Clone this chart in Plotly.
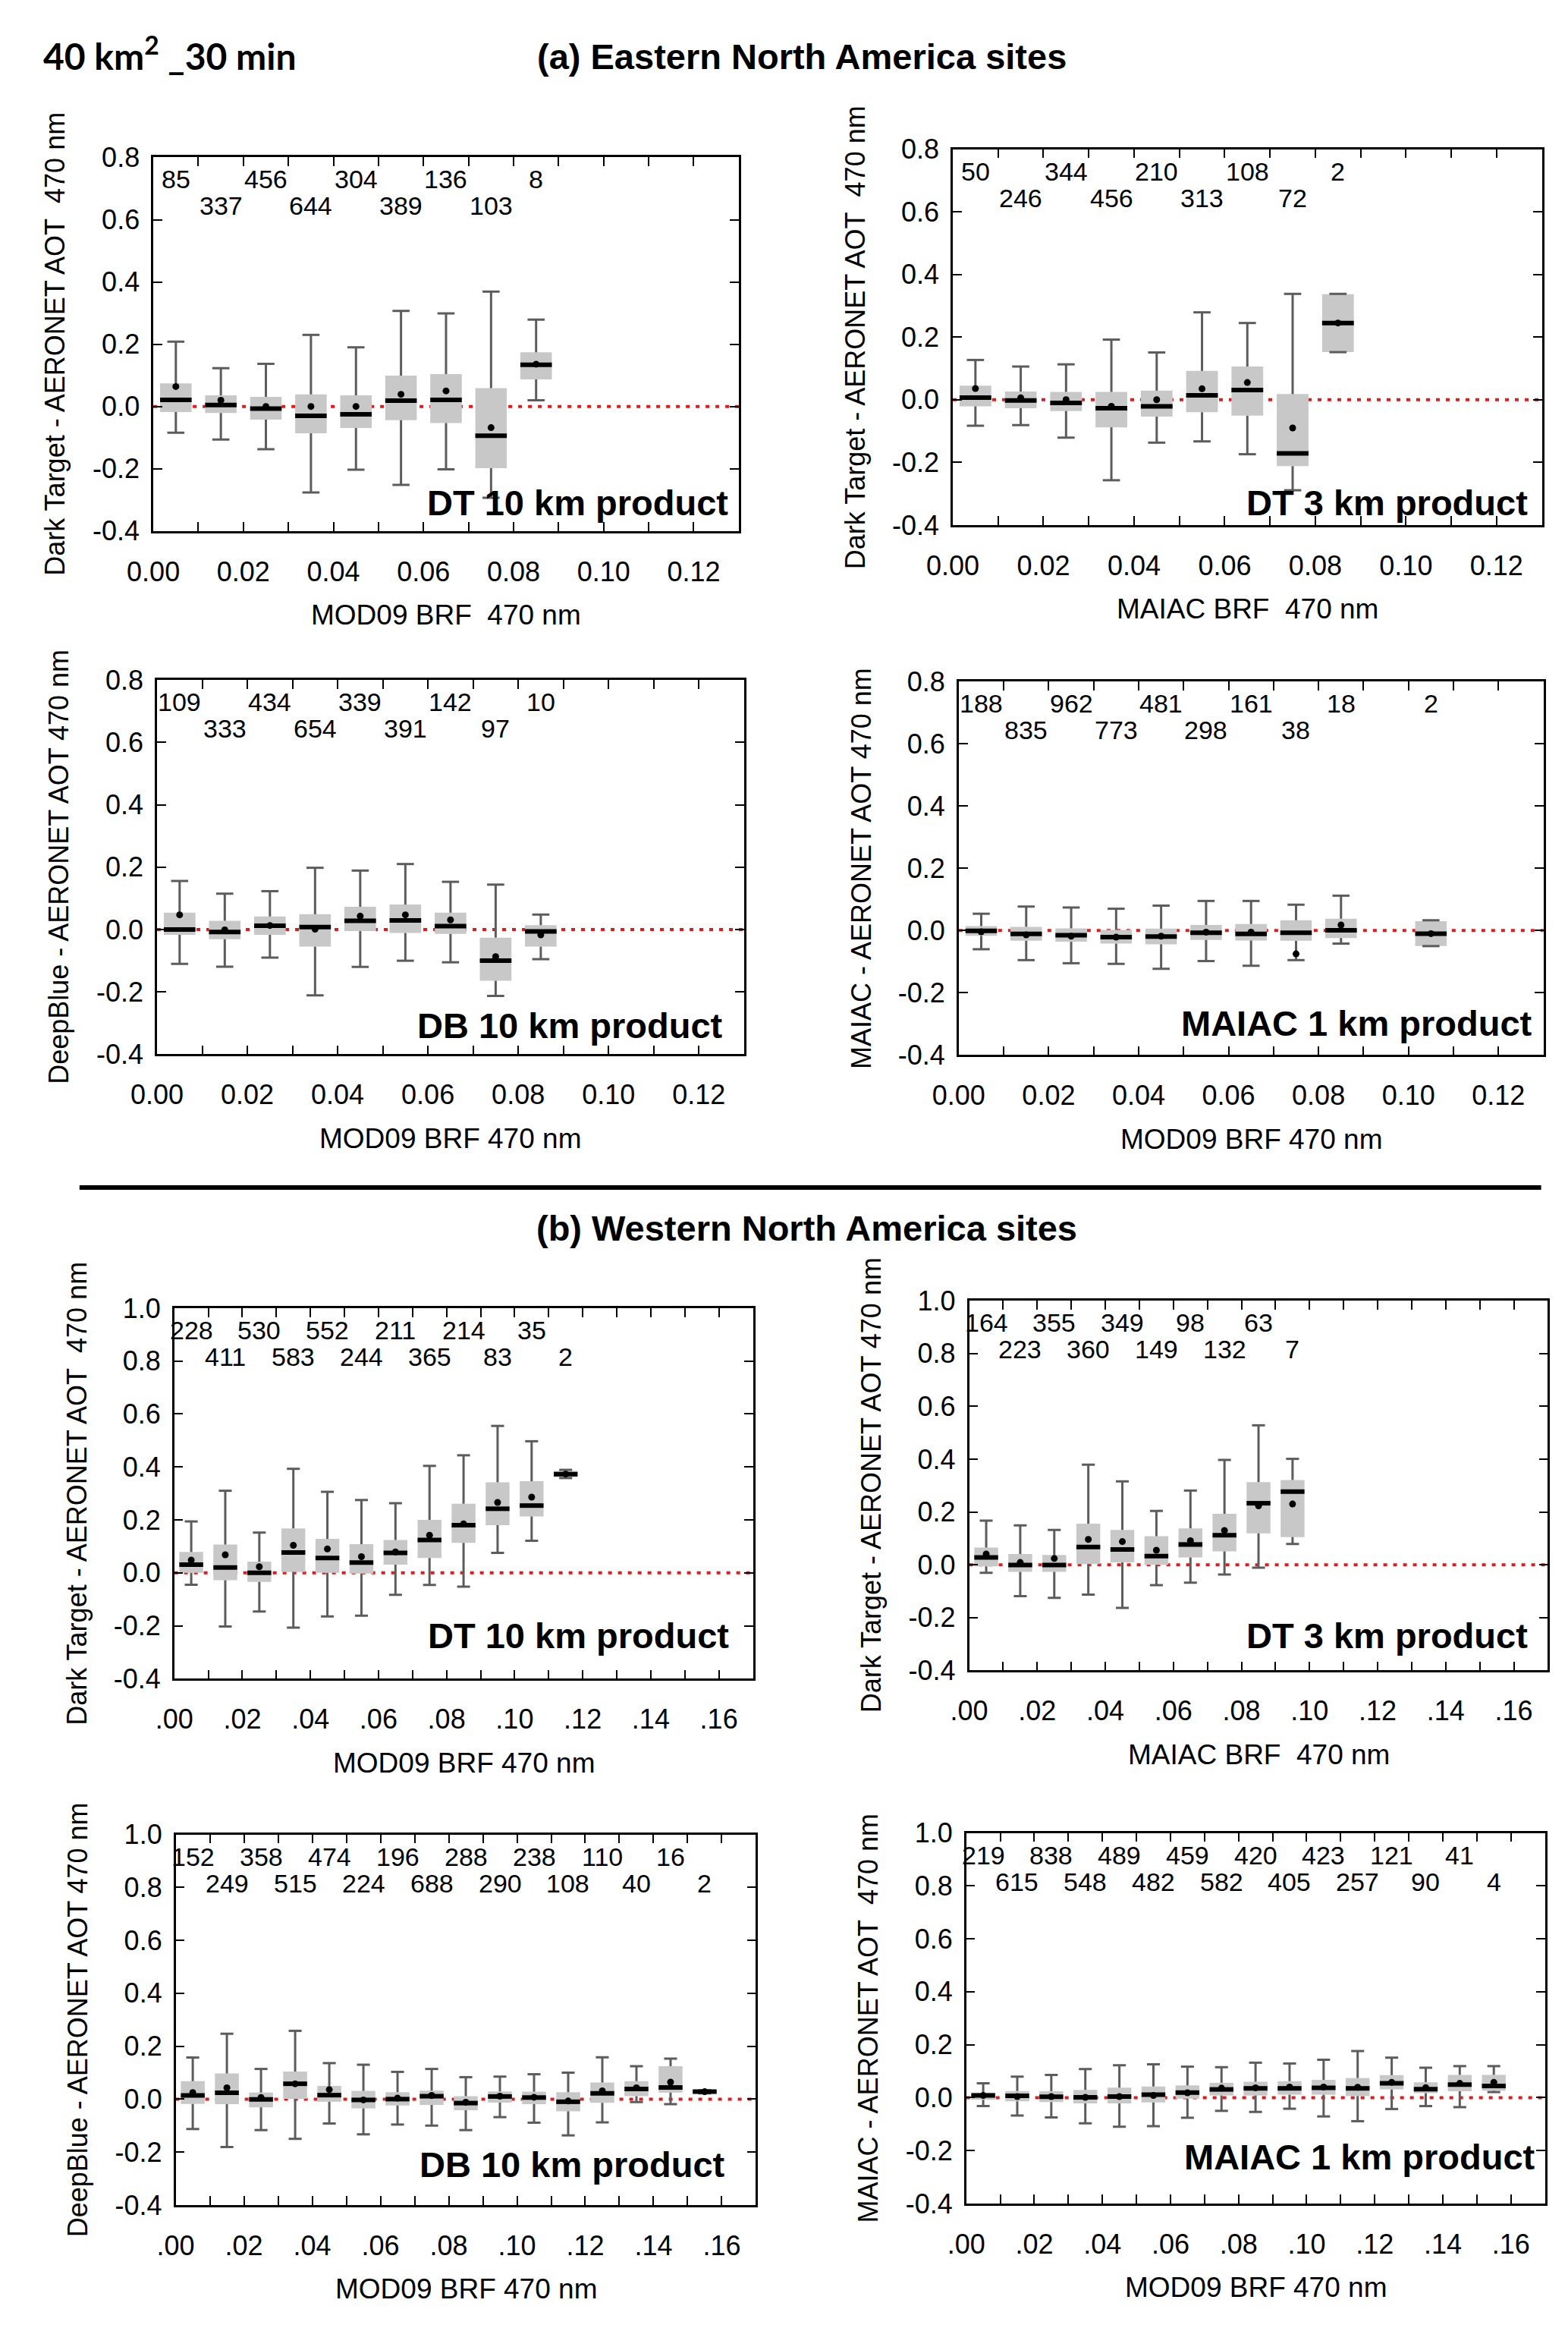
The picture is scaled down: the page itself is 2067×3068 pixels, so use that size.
import plotly.graph_objects as go

W, H = 2067, 3068
FONT = "Liberation Sans, Arial, sans-serif"

# ---------------- data ----------------
# (a) Eastern North America sites
E_DT10_BINS = [0.005, 0.015, 0.025, 0.035, 0.045, 0.055, 0.065, 0.075, 0.085]
E_DT10_LO = [-0.084, -0.106, -0.137, -0.276, -0.203, -0.252, -0.202, -0.293, 0.020]
E_DT10_Q1 = [-0.018, -0.021, -0.042, -0.086, -0.069, -0.044, -0.053, -0.198, 0.087]
E_DT10_MED = [0.021, 0.005, -0.007, -0.030, -0.025, 0.019, 0.021, -0.094, 0.134]
E_DT10_Q3 = [0.074, 0.036, 0.031, 0.039, 0.036, 0.099, 0.104, 0.059, 0.174]
E_DT10_HI = [0.208, 0.123, 0.137, 0.230, 0.190, 0.307, 0.299, 0.369, 0.279]
E_DT10_MEAN = [0.064, 0.020, 0.000, 0.000, 0.000, 0.039, 0.050, -0.068, 0.136]
E_DT10_N = [85, 337, 456, 644, 304, 389, 136, 103, 8]

E_DT3_BINS = [0.005, 0.015, 0.025, 0.035, 0.045, 0.055, 0.065, 0.075, 0.085]
E_DT3_LO = [-0.083, -0.081, -0.121, -0.257, -0.137, -0.133, -0.174, -0.289, 0.152]
E_DT3_Q1 = [-0.021, -0.027, -0.036, -0.088, -0.054, -0.040, -0.051, -0.212, 0.152]
E_DT3_MED = [0.007, -0.002, -0.010, -0.027, -0.021, 0.014, 0.031, -0.171, 0.245]
E_DT3_Q3 = [0.045, 0.026, 0.025, 0.025, 0.029, 0.092, 0.106, 0.018, 0.337]
E_DT3_HI = [0.127, 0.106, 0.113, 0.192, 0.151, 0.279, 0.245, 0.338, 0.338]
E_DT3_MEAN = [0.036, 0.006, 0.000, -0.021, 0.000, 0.035, 0.055, -0.090, 0.245]
E_DT3_N = [50, 246, 344, 456, 210, 313, 108, 72, 2]

E_DB10_BINS = [0.005, 0.015, 0.025, 0.035, 0.045, 0.055, 0.065, 0.075, 0.085]
E_DB10_LO = [-0.110, -0.119, -0.090, -0.211, -0.120, -0.100, -0.105, -0.213, -0.095]
E_DB10_Q1 = [-0.017, -0.031, -0.017, -0.055, -0.005, -0.011, -0.014, -0.164, -0.055]
E_DB10_MED = [0.000, -0.008, 0.012, 0.008, 0.028, 0.029, 0.011, -0.100, -0.006]
E_DB10_Q3 = [0.054, 0.028, 0.042, 0.049, 0.073, 0.080, 0.054, -0.026, 0.014]
E_DB10_HI = [0.156, 0.115, 0.123, 0.198, 0.189, 0.210, 0.153, 0.144, 0.048]
E_DB10_MEAN = [0.047, -0.001, 0.013, 0.001, 0.043, 0.047, 0.031, -0.087, -0.017]
E_DB10_N = [109, 333, 434, 654, 339, 391, 142, 97, 10]

E_MA1_BINS = [0.005, 0.015, 0.025, 0.035, 0.045, 0.055, 0.065, 0.075, 0.085, 0.105]
E_MA1_LO = [-0.060, -0.095, -0.105, -0.107, -0.123, -0.098, -0.113, -0.095, -0.042, -0.050]
E_MA1_Q1 = [-0.017, -0.033, -0.036, -0.042, -0.044, -0.030, -0.032, -0.033, -0.024, -0.050]
E_MA1_MED = [-0.001, -0.011, -0.015, -0.021, -0.019, -0.007, -0.011, -0.007, 0.001, -0.010]
E_MA1_Q3 = [0.014, 0.012, 0.007, 0.002, 0.006, 0.018, 0.021, 0.033, 0.038, 0.030]
E_MA1_HI = [0.054, 0.077, 0.074, 0.070, 0.080, 0.095, 0.095, 0.083, 0.112, 0.033]
E_MA1_MEAN = [-0.004, -0.014, -0.018, -0.021, -0.018, -0.005, -0.005, -0.075, 0.018, -0.010]
E_MA1_N = [188, 835, 962, 773, 481, 298, 161, 38, 18, 2]

# (b) Western North America sites
W_DT10_BINS = [0.005, 0.015, 0.025, 0.035, 0.045, 0.055, 0.065, 0.075, 0.085, 0.095, 0.105, 0.115]
W_DT10_LO = [-0.045, -0.203, -0.146, -0.207, -0.165, -0.162, -0.083, -0.046, -0.052, 0.075, 0.121, 0.358]
W_DT10_Q1 = [0.000, -0.028, -0.034, 0.003, 0.000, -0.003, 0.031, 0.056, 0.113, 0.180, 0.213, 0.361]
W_DT10_MED = [0.031, 0.020, 0.000, 0.077, 0.056, 0.039, 0.075, 0.124, 0.180, 0.242, 0.254, 0.373]
W_DT10_Q3 = [0.079, 0.107, 0.042, 0.168, 0.128, 0.108, 0.124, 0.200, 0.261, 0.342, 0.346, 0.385]
W_DT10_HI = [0.194, 0.310, 0.152, 0.393, 0.306, 0.275, 0.263, 0.404, 0.444, 0.555, 0.497, 0.389]
W_DT10_MEAN = [0.048, 0.068, 0.023, 0.104, 0.090, 0.061, 0.079, 0.142, 0.185, 0.266, 0.286, 0.373]
W_DT10_N = [228, 411, 530, 583, 552, 244, 211, 365, 214, 83, 35, 2]

W_DT3_BINS = [0.005, 0.015, 0.025, 0.035, 0.045, 0.055, 0.065, 0.075, 0.085, 0.095]
W_DT3_LO = [-0.030, -0.119, -0.125, -0.113, -0.163, -0.077, -0.068, -0.037, -0.011, 0.079]
W_DT3_Q1 = [-0.006, -0.027, -0.027, 0.003, 0.009, 0.000, 0.028, 0.051, 0.119, 0.105]
W_DT3_MED = [0.028, -0.001, -0.001, 0.067, 0.058, 0.033, 0.077, 0.112, 0.233, 0.277]
W_DT3_Q3 = [0.065, 0.041, 0.037, 0.156, 0.132, 0.108, 0.138, 0.193, 0.313, 0.321]
W_DT3_HI = [0.167, 0.149, 0.132, 0.379, 0.316, 0.204, 0.281, 0.397, 0.528, 0.401]
W_DT3_MEAN = [0.041, 0.009, 0.024, 0.096, 0.088, 0.055, 0.091, 0.130, 0.223, 0.230]
W_DT3_N = [164, 223, 355, 360, 349, 149, 98, 132, 63, 7]

W_DB10_BINS = [0.005, 0.015, 0.025, 0.035, 0.045, 0.055, 0.065, 0.075,
               0.085, 0.095, 0.105, 0.115, 0.125, 0.135, 0.145, 0.155]
W_DB10_LO = [-0.113, -0.181, -0.117, -0.150, -0.092, -0.133, -0.096, -0.100,
             -0.117, -0.068, -0.089, -0.137, -0.088, -0.011, -0.019, 0.022]
W_DB10_Q1 = [-0.018, -0.019, -0.031, 0.001, -0.010, -0.035, -0.024, -0.022,
             -0.042, -0.013, -0.019, -0.046, -0.014, 0.011, 0.025, 0.022]
W_DB10_MED = [0.014, 0.024, -0.001, 0.058, 0.015, -0.003, 0.000, 0.011,
              -0.015, 0.010, 0.006, -0.010, 0.022, 0.038, 0.044, 0.028]
W_DB10_Q3 = [0.068, 0.097, 0.025, 0.104, 0.050, 0.031, 0.026, 0.032,
             0.011, 0.029, 0.028, 0.026, 0.063, 0.068, 0.124, 0.033]
W_DB10_HI = [0.157, 0.247, 0.114, 0.258, 0.136, 0.130, 0.103, 0.114,
             0.083, 0.085, 0.094, 0.100, 0.158, 0.124, 0.153, 0.033]
W_DB10_MEAN = [0.025, 0.043, 0.006, 0.058, 0.036, -0.003, 0.004, 0.014,
               -0.012, 0.011, 0.007, -0.007, 0.031, 0.043, 0.064, 0.028]
W_DB10_N = [152, 249, 358, 515, 474, 224, 196, 688, 288, 290, 238, 108, 110, 40, 16, 2]

W_MA1_BINS = [0.005, 0.015, 0.025, 0.035, 0.045, 0.055, 0.065, 0.075,
              0.085, 0.095, 0.105, 0.115, 0.125, 0.135, 0.145, 0.155]
W_MA1_LO = [-0.032, -0.068, -0.075, -0.097, -0.110, -0.108, -0.076, -0.050,
            -0.054, -0.042, -0.071, -0.089, -0.043, -0.032, -0.036, 0.021]
W_MA1_Q1 = [-0.008, -0.014, -0.017, -0.022, -0.022, -0.018, -0.004, 0.008,
            0.008, 0.011, 0.011, 0.006, 0.031, 0.017, 0.024, 0.026]
W_MA1_MED = [0.008, 0.007, 0.003, 0.001, 0.004, 0.011, 0.019, 0.031,
             0.035, 0.035, 0.037, 0.035, 0.054, 0.032, 0.049, 0.044]
W_MA1_Q3 = [0.019, 0.025, 0.024, 0.029, 0.038, 0.042, 0.046, 0.056,
            0.060, 0.062, 0.067, 0.074, 0.085, 0.058, 0.086, 0.086]
W_MA1_HI = [0.054, 0.079, 0.086, 0.108, 0.122, 0.126, 0.117, 0.115,
            0.132, 0.129, 0.143, 0.176, 0.151, 0.113, 0.119, 0.119]
W_MA1_MEAN = [0.008, 0.004, 0.004, 0.001, 0.004, 0.008, 0.018, 0.036,
              0.037, 0.040, 0.040, 0.039, 0.058, 0.038, 0.054, 0.058]
W_MA1_N = [219, 615, 838, 548, 489, 482, 459, 582, 420, 405, 423, 257, 121, 90, 41, 4]

# tick values / labels
EAST_XTICKS = [0.00, 0.01, 0.02, 0.03, 0.04, 0.05, 0.06, 0.07, 0.08, 0.09, 0.10, 0.11, 0.12, 0.13]
EAST_XLABELS = ["0.00", "", "0.02", "", "0.04", "", "0.06", "", "0.08", "", "0.10", "", "0.12", ""]
WEST_XTICKS = [0.00, 0.01, 0.02, 0.03, 0.04, 0.05, 0.06, 0.07, 0.08,
               0.09, 0.10, 0.11, 0.12, 0.13, 0.14, 0.15, 0.16, 0.17]
WEST_XLABELS = [".00", "", ".02", "", ".04", "", ".06", "", ".08",
                "", ".10", "", ".12", "", ".14", "", ".16", ""]
EAST_YTICKS = [-0.4, -0.2, 0.0, 0.2, 0.4, 0.6, 0.8]
EAST_YLABELS = ["-0.4", "-0.2", "0.0", "0.2", "0.4", "0.6", "0.8"]
WEST_YTICKS = [-0.4, -0.2, 0.0, 0.2, 0.4, 0.6, 0.8, 1.0]
WEST_YLABELS = ["-0.4", "-0.2", "0.0", "0.2", "0.4", "0.6", "0.8", "1.0"]

# ---------------- panel layout (pixel frames) ----------------
PANELS = [
    dict(data=(E_DT10_BINS, E_DT10_LO, E_DT10_Q1, E_DT10_MED, E_DT10_Q3, E_DT10_HI, E_DT10_MEAN, E_DT10_N),
         frame=(170, 955, 190, 689), east=True, label="DT 10 km product", lab_off=(-12, 37),
         xtitle="MOD09 BRF&nbsp;&nbsp;470 nm", ytitle="Dark Target - AERONET AOT&nbsp;&nbsp;470 nm"),
    dict(data=(E_DT3_BINS, E_DT3_LO, E_DT3_Q1, E_DT3_MED, E_DT3_Q3, E_DT3_HI, E_DT3_MEAN, E_DT3_N),
         frame=(1242, 2032, 179, 681), east=True, label="DT 3 km product", lab_off=(-17, 29),
         xtitle="MAIAC BRF&nbsp;&nbsp;470 nm", ytitle="Dark Target - AERONET AOT&nbsp;&nbsp;470 nm"),
    dict(data=(E_DB10_BINS, E_DB10_LO, E_DB10_Q1, E_DB10_MED, E_DB10_Q3, E_DB10_HI, E_DB10_MEAN, E_DB10_N),
         frame=(175, 962, 888, 1388), east=True, label="DB 10 km product", lab_off=(-26, 38),
         xtitle="MOD09 BRF 470 nm", ytitle="DeepBlue - AERONET AOT 470 nm"),
    dict(data=(E_MA1_BINS, E_MA1_LO, E_MA1_Q1, E_MA1_MED, E_MA1_Q3, E_MA1_HI, E_MA1_MEAN, E_MA1_N),
         frame=(1250, 2034, 890, 1389), east=True, label="MAIAC 1 km product", lab_off=(-13, 42),
         xtitle="MOD09 BRF 470 nm", ytitle="MAIAC - AERONET AOT 470 nm"),
    dict(data=(W_DT10_BINS, W_DT10_LO, W_DT10_Q1, W_DT10_MED, W_DT10_Q3, W_DT10_HI, W_DT10_MEAN, W_DT10_N),
         frame=(198, 974, 1727, 2222), east=False, label="DT 10 km product", lab_off=(-30, 57),
         xtitle="MOD09 BRF 470 nm", ytitle="Dark Target - AERONET AOT&nbsp;&nbsp;470 nm"),
    dict(data=(W_DT3_BINS, W_DT3_LO, W_DT3_Q1, W_DT3_MED, W_DT3_Q3, W_DT3_HI, W_DT3_MEAN, W_DT3_N),
         frame=(1264, 2040, 1717, 2211), east=False, label="DT 3 km product", lab_off=(-24, 46),
         xtitle="MAIAC BRF&nbsp;&nbsp;470 nm", ytitle="Dark Target - AERONET AOT 470 nm"),
    dict(data=(W_DB10_BINS, W_DB10_LO, W_DB10_Q1, W_DB10_MED, W_DB10_Q3, W_DB10_HI, W_DB10_MEAN, W_DB10_N),
         frame=(200, 978, 2430, 2925), east=False, label="DB 10 km product", lab_off=(-38, 53),
         xtitle="MOD09 BRF 470 nm", ytitle="DeepBlue - AERONET AOT 470 nm"),
    dict(data=(W_MA1_BINS, W_MA1_LO, W_MA1_Q1, W_MA1_MED, W_MA1_Q3, W_MA1_HI, W_MA1_MEAN, W_MA1_N),
         frame=(1260, 2036, 2428, 2923), east=False, label="MAIAC 1 km product", lab_off=(-11, 61),
         xtitle="MOD09 BRF 470 nm", ytitle="MAIAC - AERONET AOT&nbsp;&nbsp;470 nm"),
]

BOX_W = 0.007
CAP = 0.0019
BOX_FILL = "#c8c8c8"
WHISK = "#5c5c5c"

fig = go.Figure()
layout = dict(
    width=W, height=H, showlegend=False, barmode="overlay",
    margin=dict(l=0, r=0, t=0, b=0, pad=0),
    paper_bgcolor="white", plot_bgcolor="white",
    font=dict(family=FONT, color="black"),
)
annotations = []
shapes = []

for k, p in enumerate(PANELS, start=1):
    bins, lo, q1, med, q3, hi, mean, counts = p["data"]
    sfx = "" if k == 1 else str(k)
    xa, ya = "x" + sfx, "y" + sfx
    x0, x1, y0, y1 = p["frame"]
    east = p["east"]

    # boxes
    fig.add_trace(go.Bar(
        x=bins, base=q1, y=[b - a for a, b in zip(q1, q3)], width=BOX_W,
        marker=dict(color=BOX_FILL, line=dict(width=0)), xaxis=xa, yaxis=ya,
    ))
    # whiskers + caps
    wx, wy = [], []
    for x, l, a, b, h in zip(bins, lo, q1, q3, hi):
        wx += [x, x, None, x - CAP, x + CAP, None, x, x, None, x - CAP, x + CAP, None]
        wy += [b, h, None, h, h, None, a, l, None, l, l, None]
    fig.add_trace(go.Scatter(x=wx, y=wy, mode="lines", line=dict(color=WHISK, width=3),
                             xaxis=xa, yaxis=ya, hoverinfo="skip"))
    # medians
    mx, my = [], []
    for x, m in zip(bins, med):
        mx += [x - BOX_W / 2, x + BOX_W / 2, None]
        my += [m, m, None]
    fig.add_trace(go.Scatter(x=mx, y=my, mode="lines", line=dict(color="black", width=6),
                             xaxis=xa, yaxis=ya, hoverinfo="skip"))
    # means
    fig.add_trace(go.Scatter(x=bins, y=mean, mode="markers",
                             marker=dict(color="black", size=9), xaxis=xa, yaxis=ya))

    xticks, xlabels = (EAST_XTICKS, EAST_XLABELS) if east else (WEST_XTICKS, WEST_XLABELS)
    yticks, ylabels = (EAST_YTICKS, EAST_YLABELS) if east else (WEST_YTICKS, WEST_YLABELS)
    axis_common = dict(
        showgrid=False, zeroline=False, showline=True, linecolor="black", linewidth=2.5,
        mirror="allticks", ticks="inside", ticklen=12, tickwidth=2, tickcolor="black",
        tickfont=dict(family=FONT, size=36, color="black"),
    )
    layout["xaxis" + sfx] = dict(
        axis_common, domain=[x0 / W, x1 / W], range=[xticks[0], xticks[-1]],
        tickmode="array", tickvals=xticks, ticktext=xlabels, anchor=ya, ticklabelstandoff=20,
    )
    layout["yaxis" + sfx] = dict(
        axis_common, domain=[1 - y1 / H, 1 - y0 / H], range=[yticks[0], yticks[-1]],
        tickmode="array", tickvals=yticks, ticktext=ylabels, anchor=xa, ticklabelstandoff=8,
    )

    # red dotted zero line
    shapes.append(dict(type="line", xref=xa + " domain", yref=ya, x0=0, x1=1, y0=0, y1=0,
                       line=dict(color="#e31a1c", width=4, dash="5px,8px"), layer="below"))

    # counts (alternating rows)
    for x, n in zip(bins, counts):
        row = int(round(x * 100 - 0.5)) % 2
        annotations.append(dict(
            text=str(n), x=x, xref=xa, y=1, yref=ya + " domain",
            yshift=-29 if row == 0 else -64, yanchor="middle", xanchor="center",
            showarrow=False, font=dict(size=34, family=FONT),
        ))
    # product label
    annotations.append(dict(
        text=f"<b>{p['label']}</b>", x=1, xref=xa + " domain", y=0, yref=ya + " domain",
        xanchor="right", yanchor="middle", xshift=p["lab_off"][0], yshift=p["lab_off"][1],
        showarrow=False, font=dict(size=47, family=FONT),
    ))
    # axis titles
    annotations.append(dict(
        text=p["xtitle"], x=0.5, xref=xa + " domain", y=0, yref=ya + " domain",
        yshift=-111, xanchor="center", yanchor="middle", showarrow=False,
        font=dict(size=37, family=FONT),
    ))
    annotations.append(dict(
        text=p["ytitle"], x=0, xref=xa + " domain", y=0.5, yref=ya + " domain",
        xshift=-129, xanchor="center", yanchor="middle", textangle=-90, showarrow=False,
        font=dict(size=36, family=FONT),
    ))

# page titles and separator
annotations.append(dict(text="<b>40 km<sup>2</sup> _30 min</b>", x=20 / W, y=1 - 51 / H,
                        xref="paper", yref="paper", xanchor="left", yanchor="middle",
                        showarrow=False, font=dict(size=48, family="Lato, Open Sans, sans-serif")))
annotations.append(dict(text="<b>(a) Eastern North America sites</b>", x=1040 / W, y=1 - 55 / H,
                        xref="paper", yref="paper", xanchor="center", yanchor="middle",
                        showarrow=False, font=dict(size=47, family=FONT)))
annotations.append(dict(text="<b>(b) Western North America sites</b>", x=1046 / W, y=1 - 1620 / H,
                        xref="paper", yref="paper", xanchor="center", yanchor="middle",
                        showarrow=False, font=dict(size=47, family=FONT)))
shapes.append(dict(type="line", xref="paper", yref="paper", x0=71 / W, x1=2031 / W,
                   y0=1 - 1566 / H, y1=1 - 1566 / H, line=dict(color="black", width=6)))

layout["annotations"] = annotations
layout["shapes"] = shapes
fig.update_layout(**layout)

fig.write_html("out.html", config={"displayModeBar": False},
               post_script="document.body.style.margin = '0px';")
